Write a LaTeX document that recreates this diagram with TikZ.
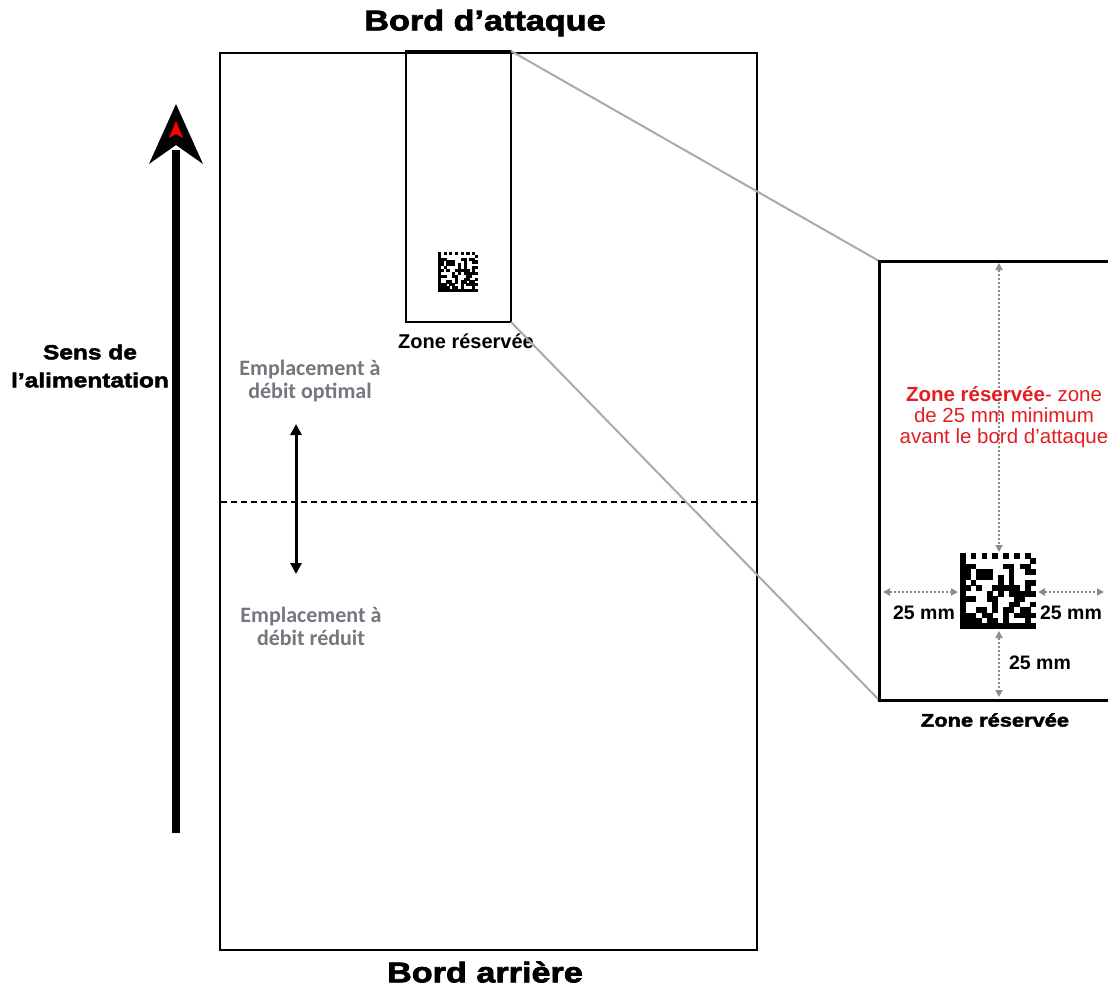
\documentclass[tikz,border=0pt]{standalone}
\usepackage{fontspec}
\setmainfont{Liberation Sans}
\newfontfamily\heavy[FakeStretch=1.2,FakeBold=2.5]{Liberation Sans Bold}
\newfontfamily\calib{Carlito}
\usetikzlibrary{arrows.meta}
\definecolor{gtext}{RGB}{118,118,128}
\definecolor{gline}{RGB}{170,170,170}
\definecolor{gdot}{RGB}{140,140,140}
\definecolor{zred}{RGB}{226,30,36}
\newcommand\dmxcode[3]{%
  \pgfmathsetseed{4242}%
  \foreach \i in {0,...,13}{\foreach \j in {0,...,13}{%
    \pgfmathsetmacro\v{(\i==0 || \j==13) ? 1 : ((\j==0) ? (mod(\i,2)==0) : ((\i==13) ? (mod(\j,2)==1) : (rnd<0.5)))}%
    \ifdim\v pt>0.5pt \fill (#1+\i*#3/14-0.15, #2+\j*#3/14-0.15) rectangle ++(#3/14+0.3,#3/14+0.3);\fi
  }}}
\begin{document}
\begin{tikzpicture}[x=1pt,y=-1pt,
  box/.style={draw,line width=2pt,inner sep=0pt,outer sep=0pt},
  title/.style={font=\heavy\fontsize{28.5}{32}\selectfont},
  graylbl/.style={font=\calib\bfseries\fontsize{22}{23}\selectfont,text=gtext,align=center},
  mm/.style={font=\bfseries\fontsize{19.5}{22}\selectfont},
  dimarrow/.style={draw=gdot,line width=2pt,dash pattern=on 2pt off 2pt,{Triangle[length=7pt,width=7pt]}-{Triangle[length=7pt,width=7pt]}},
  conn/.style={draw=gline,line width=2pt}]
\useasboundingbox (0,0) rectangle (1108,991);
\clip (0,0) rectangle (1108,991);
% paper
\node[box,minimum width=537pt,minimum height=897pt] (paper) at (488.5,501.5) {};
\node[box,minimum width=105pt,minimum height=271pt] (zone) at (458.5,186.5) {};
% titles
\node[title] (tt) at (485,23) {Bord d’attaque};
\node[title] (tb) at (485,972) {Bord arrière};
% big feed arrow
\fill (172,833) rectangle (180,150);
\fill (176,104) -- (203,164) -- (176,145) -- (149,164) -- cycle;
\fill[red] (176,121) -- (183,138) -- (176,134) -- (169,138) -- cycle;
\node[font=\heavy\fontsize{20.4}{28}\selectfont,align=center] (sens) at (90,366) {Sens de\\l’alimentation};
% dashed divider
\coordinate (dl) at (221,502);
\coordinate (dr) at (756,502);
\draw[line width=1.5pt,dash pattern=on 6pt off 4pt] (dl) -- (dr);
% optimal / reduced
\node[graylbl] (opt) at (310,381) {Emplacement à\\débit optimal};
\node[graylbl] (red) at (311,626) {Emplacement à\\débit réduit};
\coordinate (au) at (296,424);
\coordinate (ad) at (296,574);
\draw[line width=3pt,{Triangle[length=11pt,width=11pt]}-{Triangle[length=11pt,width=11pt]}] (au) -- (ad);
% small data matrix
\dmxcode{438}{252}{40}
\node[font=\bfseries\fontsize{20}{22}\selectfont] (zl) at (466,341) {Zone réservée};
% right panel
\coordinate (pTL) at (879,261);
\coordinate (pBL) at (879,700);
\draw[conn] (zone.north east) -- (pTL);
\draw[conn] (zone.south east) -- (pBL);
\draw[line width=3pt] (1112,261) -- (pTL) -- (pBL) -- (1112,700);
% vertical dim arrow top
\coordinate (v1) at (999,263);
\coordinate (v2) at (999,552);
\draw[dimarrow] (v1) -- (v2);
\node[font=\fontsize{20.5}{21}\selectfont,text=zred,align=center] (rz) at (1004,417) {{\bfseries Zone réservée}- zone\\de 25 mm minimum\\avant le bord d’attaque};
% big data matrix
\dmxcode{960}{553}{76}
% other dims
\coordinate (h1) at (883,592);
\coordinate (h2) at (958,592);
\coordinate (h3) at (1038,592);
\coordinate (h4) at (1104,592);
\coordinate (b1) at (999,631);
\coordinate (b2) at (999,697);
\draw[dimarrow] (h1) -- (h2);
\draw[dimarrow] (h3) -- (h4);
\draw[dimarrow] (b1) -- (b2);
\node[mm] (m1) at (924,613) {25 mm};
\node[mm] (m2) at (1071,613) {25 mm};
\node[mm] (m3) at (1040,663) {25 mm};
\node[font=\heavy\fontsize{18.2}{20}\selectfont] (pl) at (995,720) {Zone réservée};
\end{tikzpicture}
\end{document}
